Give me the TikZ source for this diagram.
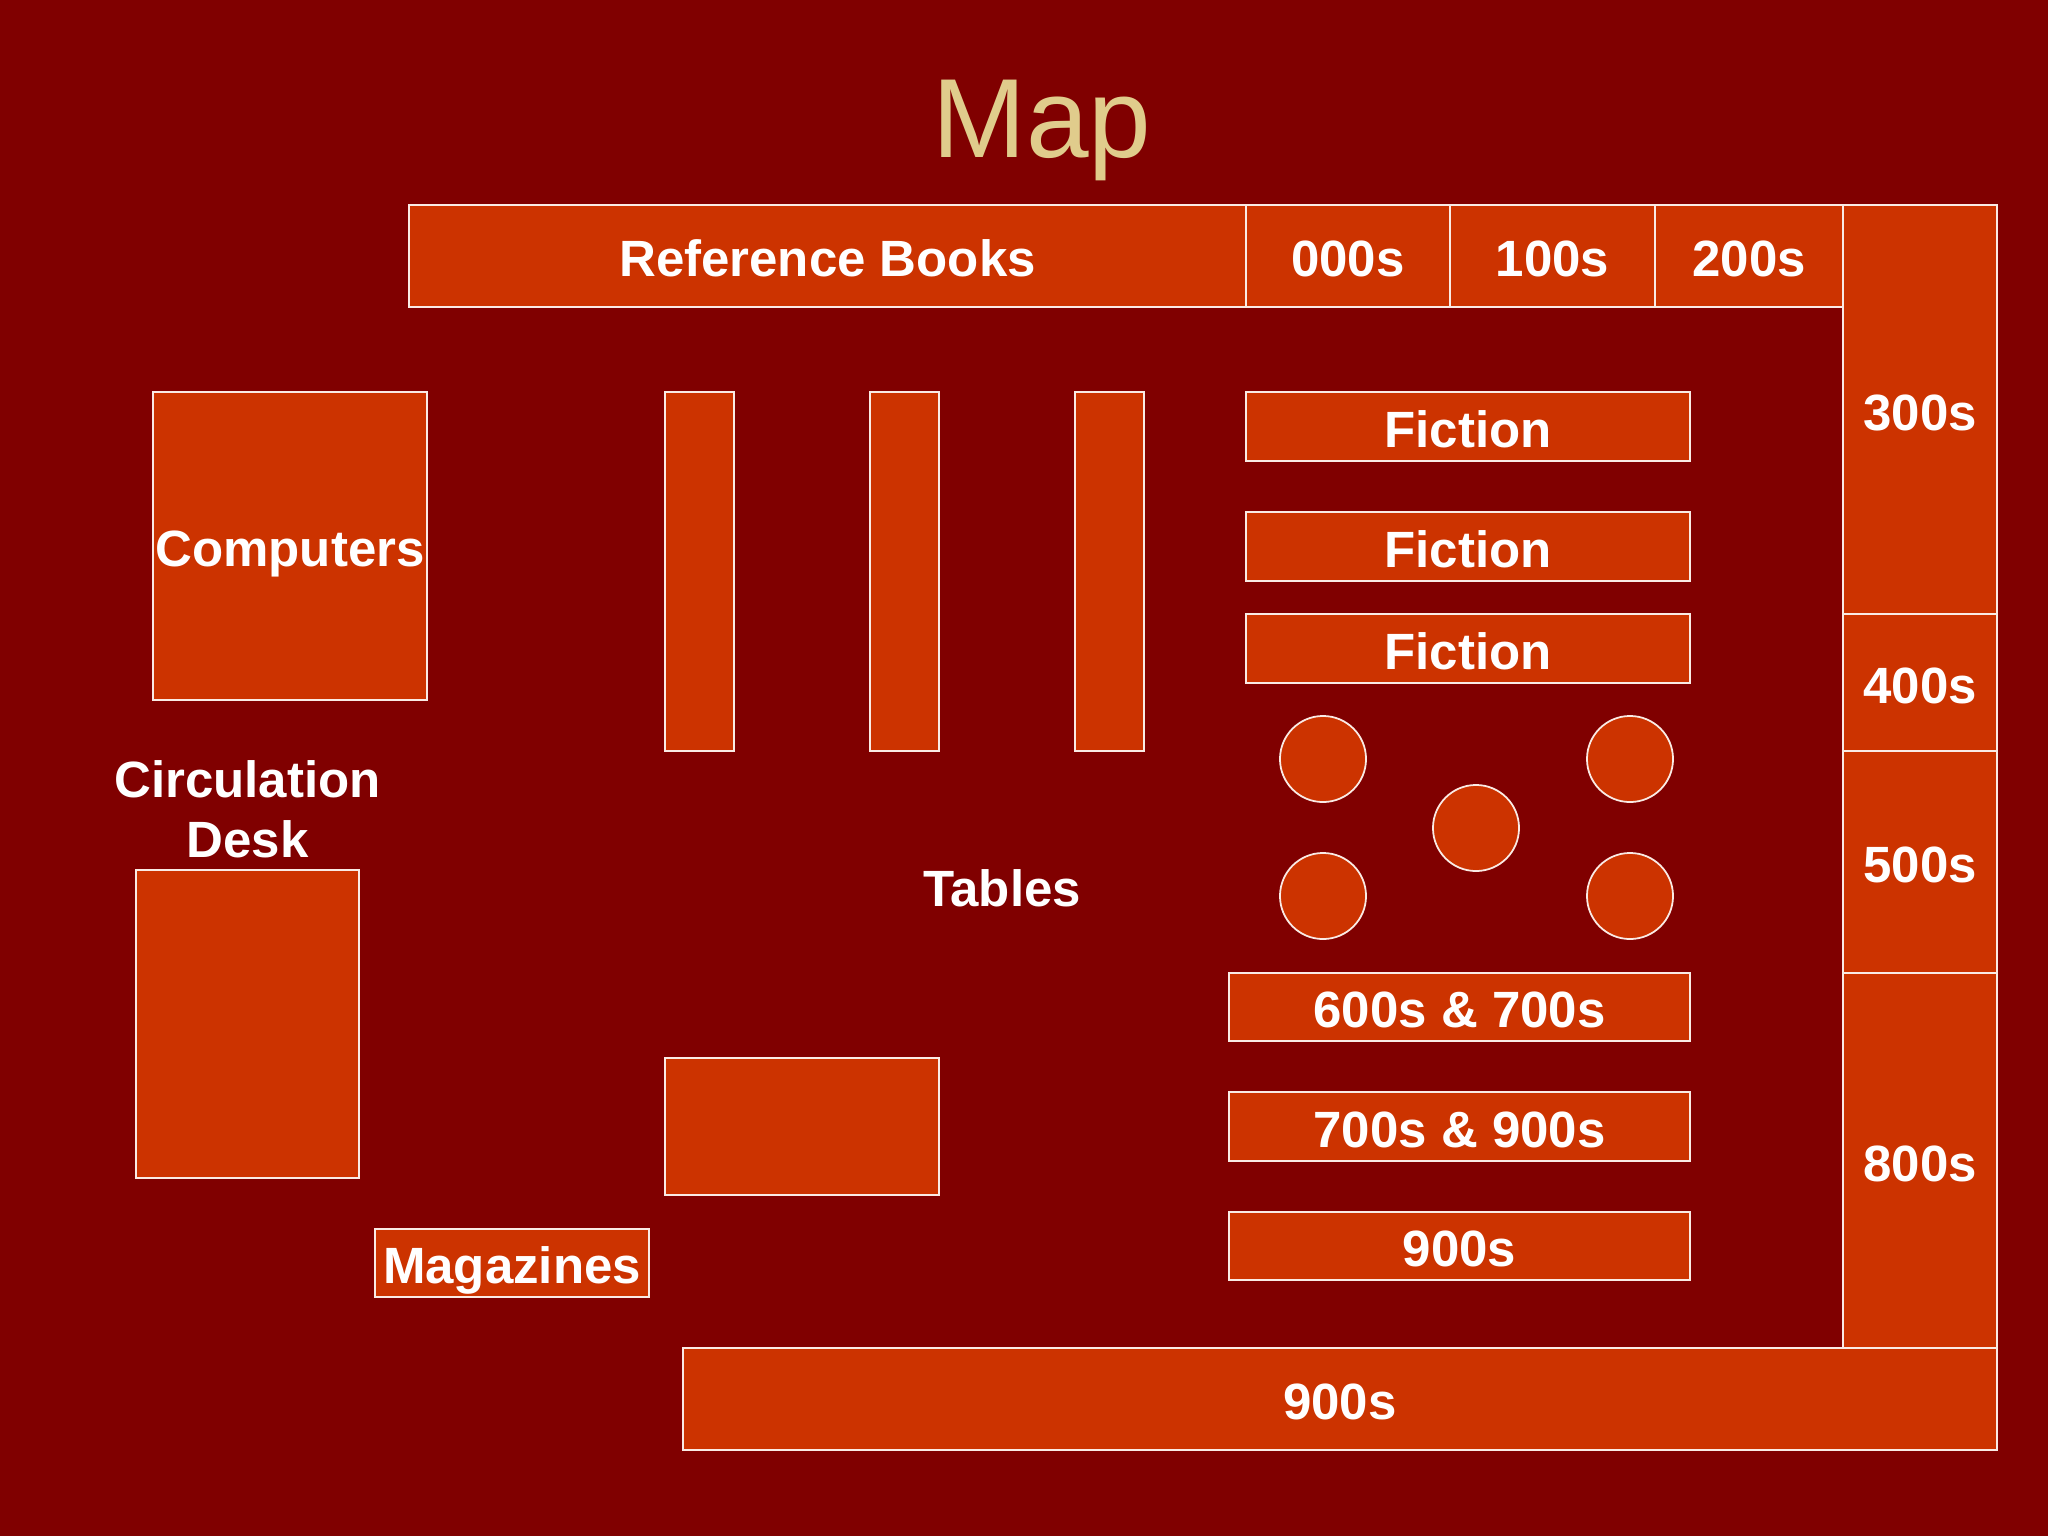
\documentclass[tikz,border=0pt]{standalone}
\usepackage{fontspec}
\setmainfont{Liberation Sans}
\definecolor{mapbg}{HTML}{800000}
\definecolor{shelffill}{HTML}{CC3300}
\definecolor{titlecol}{HTML}{E0CC8C}
\tikzset{
  shelf/.style={draw=white!90!shelffill, fill=shelffill, line width=0.5pt},
  shelflabel/.style={text=white, font=\fontsize{14.5}{17}\selectfont\bfseries, inner sep=0pt, text height=11.8pt, text depth=0pt},
  freelabel/.style={text=white, font=\fontsize{14.5}{17}\selectfont\bfseries, inner sep=0pt, align=center}
}

\begin{document}
\begin{tikzpicture}[x=0.01cm,y=-0.01cm]

% Background
\fill[mapbg] (0,0) rectangle (2048,1536);
\useasboundingbox (0,0) rectangle (2048,1536);

% Title
\node[anchor=base, text=titlecol, font=\fontsize{32}{40}\selectfont, xscale=1] (title) at (1042,157) {Map};

% Shelves with labels, outer walls first
\foreach \name/\xa/\ya/\xb/\yb/\lbl in {
  ref/409/205/1246/307/Reference Books, s000/1246/205/1450/307/000s,
  s100/1450/205/1655/307/100s, s200/1655/205/1843/307/200s,
  s300/1843/205/1997/614/300s, s400/1843/614/1997/751/400s,
  s500/1843/751/1997/973/500s, s800/1843/973/1997/1348/800s,
  s900a/683/1348/1997/1450/900s,
  % Inner rows
  fica/1246/392/1690/461/Fiction, ficb/1246/512/1690/581/Fiction,
  ficc/1246/614/1690/683/Fiction,
  mixa/1229/973/1690/1041/600s \& 700s, mixb/1229/1092/1690/1161/700s \& 900s,
  s900b/1229/1212/1690/1280/900s,
  comp/153/392/427/700/Computers, mags/375/1229/649/1297/Magazines
} {
  \draw[shelf] (\xa,\ya) rectangle (\xb,\yb) node[midway, shelflabel] (\name) {\lbl};
}

% Shapes without labels
\foreach \xa/\ya/\xb/\yb in {
  665/392/734/751, 870/392/939/751, 1075/392/1144/751,
  136/870/359/1178, 665/1058/939/1195
} {
  \draw[shelf] (\xa,\ya) rectangle (\xb,\yb);
}

% Tables
\foreach \x/\y in {1323/759, 1630/759, 1476/828, 1323/896, 1630/896} {
  \draw[shelf] (\x,\y) circle (0.43cm);
}

% Free labels
\node[freelabel] (circ) at (247.5,809) {Circulation\\Desk};
\node[freelabel] (tables) at (1002,888) {Tables};

\end{tikzpicture}
\end{document}
